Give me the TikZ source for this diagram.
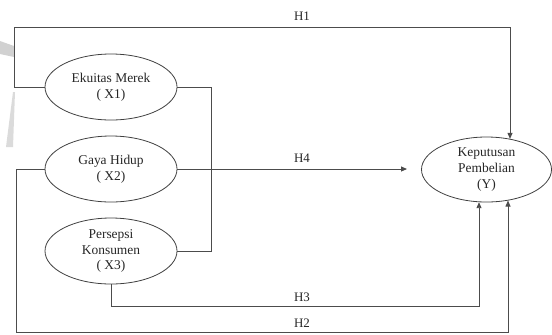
\documentclass[tikz,border=0pt]{standalone}
\usepackage{fontspec}
\setmainfont{Liberation Serif}
\usetikzlibrary{shapes.geometric,arrows.meta}
\begin{document}
\begin{tikzpicture}[x=1bp,y=-1bp,
  var/.style={ellipse,draw=black!75,line width=0.8bp,inner sep=0pt,
    minimum width=132bp,minimum height=66bp,align=center,
    text=black!85,font=\fontsize{13.5}{16}\selectfont},
  link/.style={draw=black!70,line width=0.9bp},
  arr/.style={link,-{Triangle[length=6bp,width=5bp]}},
  hyp/.style={text=black!85,font=\fontsize{13}{15}\selectfont,inner sep=0pt}]
  \useasboundingbox (0,0) rectangle (552,334);

  % faint background mark at the left edge
  \fill[black!18] (0,41) -- (14,46) -- (14,57) -- (0,54) -- cycle;
  \fill[black!14] (13,92) -- (15,92) -- (13,147) -- (6,147) -- cycle;

  % variables
  \node[var] (x1) at (111,87) {Ekuitas Merek\\( X1)};
  \node[var] (x2) at (111,169) {Gaya Hidup\\( X2)};
  \node[var] (x3) at (111,251) {Persepsi\\Konsumen\\( X3)};
  \node[var,minimum width=130bp,minimum height=65bp] (y) at (486.5,169.5)
    {Keputusan\\Pembelian\\(Y)};

  % routing points
  \coordinate (h1a) at (14,27);
  \coordinate (h1b) at (510,27);
  \coordinate (h2a) at (16,332);
  \coordinate (h2b) at (508,332);
  \coordinate (h3a) at (111,306);
  \coordinate (h3b) at (479,306);
  \coordinate (h4end) at (407,169);
  \coordinate (bus) at (211,87);

  % X1 and X3 joined on the right
  \draw[link] (x1.east) -- (bus) |- (x3.east);

  % H1
  \draw[arr] (x1.west) -| (h1a) -- (h1b) -- (h1b |- y.52);
  % H4
  \draw[arr] (x2.east) -- (h4end);
  % H3
  \draw[arr] (x3.south) -- (h3a) -- (h3b) -- (h3b |- y.-103);
  % H2
  \draw[arr] (x2.west) -| (h2a) -- (h2b) -- (h2b |- y.-55);

  % hypothesis labels
  \node[hyp] (lh1) at (302,16) {H1};
  \node[hyp] (lh4) at (302,158) {H4};
  \node[hyp] (lh3) at (302,297) {H3};
  \node[hyp] (lh2) at (302,323) {H2};
\end{tikzpicture}
\end{document}
